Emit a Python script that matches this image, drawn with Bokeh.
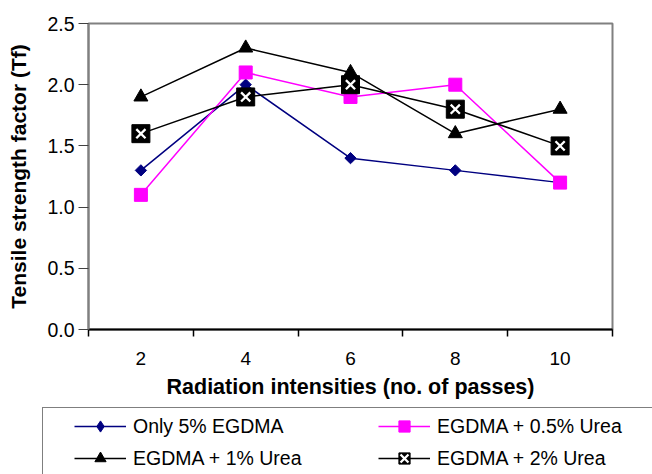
import math
from bokeh.plotting import figure
from bokeh.models import Range1d, FixedTicker, Legend, LegendItem
from bokeh.embed import file_html
from bokeh.resources import INLINE

# ---- data ----
passes = [2, 4, 6, 8, 10]
only_egdma = [1.3, 2.0, 1.4, 1.3, 1.2]
urea_05 = [1.1, 2.1, 1.9, 2.0, 1.2]
urea_1 = [1.9, 2.3, 2.1, 1.6, 1.8]
urea_2 = [1.6, 1.9, 2.0, 1.8, 1.5]
series_names = ["Only 5% EGDMA", "EGDMA + 0.5% Urea", "EGDMA + 1% Urea", "EGDMA + 2% Urea"]
y_ticks = [0.0, 0.5, 1.0, 1.5, 2.0, 2.5]
x_boundaries = [1, 3, 5, 7, 9, 11]

FONT = "Liberation Sans"


def draw_series(fig, xs, ys, in_legend=False):
    # diamond: rotated square in the plot, diamond marker in the legend (legend ignores angle)
    if in_legend:
        d_style = dict(marker="diamond", size=12, angle=0)
    else:
        d_style = dict(marker="square", size=8, angle=math.pi / 4)
    styles = [
        dict(color="#000080", **d_style),
        dict(color="#FF00FF", marker="square", size=13, angle=0),
        dict(color="black", marker="triangle", size=14, angle=0),
    ]
    groups = []
    for vals, st in zip(ys[:3], styles):
        ln = fig.line(xs, vals, line_color=st["color"], line_width=1.5)
        mk = fig.scatter(xs, vals, marker=st["marker"], size=st["size"], angle=st["angle"],
                         fill_color=st["color"], line_color=st["color"])
        groups.append([ln, mk])
    vals = ys[3]
    ln = fig.line(xs, vals, line_color="black", line_width=1.5)
    sq = fig.scatter(xs, vals, marker="square", size=18, fill_color="black", line_color="black")
    xx = fig.scatter(xs, vals, marker="x", size=13, line_color="white", line_width=2.3)
    groups.append([ln, sq, xx])
    return groups


all_series = [only_egdma, urea_05, urea_1, urea_2]

p = figure(width=652, height=405, output_backend="svg", toolbar_location=None,
           x_range=Range1d(1, 11), y_range=Range1d(0, 2.5),
           min_border_left=88, min_border_right=40, min_border_top=23, min_border_bottom=76)
p.grid.visible = False
p.outline_line_color = "#808080"
p.outline_line_width = 2
p.background_fill_color = "white"
p.border_fill_color = "white"

xa = p.xaxis[0]
xa.ticker = FixedTicker(ticks=passes, minor_ticks=x_boundaries)
xa.major_tick_line_color = None
xa.major_tick_out = 0
xa.minor_tick_out = 7
xa.minor_tick_in = 0
xa.minor_tick_line_color = "black"
xa.minor_tick_line_width = 1.5
xa.axis_line_color = "black"
xa.axis_line_width = 2
xa.major_label_standoff = 15
xa.major_label_text_font = FONT
xa.major_label_text_font_size = "19px"
xa.major_label_text_color = "black"
xa.axis_label = "Radiation intensities (no. of passes)"
xa.axis_label_text_font = FONT
xa.axis_label_text_font_size = "21.5px"
xa.axis_label_text_font_style = "bold"
xa.axis_label_text_color = "black"
xa.axis_label_standoff = 7

ya = p.yaxis[0]
ya.ticker = FixedTicker(ticks=y_ticks)
ya.minor_tick_line_color = None
ya.major_tick_out = 10
ya.major_tick_in = 0
ya.major_tick_line_color = "#404040"
ya.axis_line_color = "#808080"
ya.axis_line_width = 2
ya.major_label_overrides = {t: f"{t:.1f}" for t in y_ticks}
ya.major_label_standoff = 4
ya.major_label_text_font = FONT
ya.major_label_text_font_size = "19.5px"
ya.major_label_text_color = "black"
ya.axis_label = "Tensile strength factor (Tf)"
ya.axis_label_text_font = FONT
ya.axis_label_text_font_size = "21px"
ya.axis_label_text_font_style = "bold"
ya.axis_label_text_color = "black"
ya.axis_label_standoff = 14

draw_series(p, passes, all_series)

# ---- legend strip: own figure; its copies of the series lie outside its ranges ----
lp = figure(width=652, height=69, output_backend="svg", toolbar_location=None,
            x_range=Range1d(100, 101), y_range=Range1d(100, 101),
            x_axis_location=None, y_axis_location=None, min_border=0)
lp.grid.visible = False
lp.outline_line_color = None
lp.background_fill_color = "white"
lp.border_fill_color = "white"
lg = draw_series(lp, passes, all_series, in_legend=True)

items = [
    LegendItem(label=series_names[0], renderers=lg[0]),
    LegendItem(label=series_names[2], renderers=lg[2]),
    LegendItem(label=series_names[1], renderers=lg[1]),
    LegendItem(label=series_names[3], renderers=lg[3]),
]
legend = Legend(items=items, ncols=2, orientation="vertical",
                location=(42, -3), margin=0,
                glyph_width=52, glyph_height=28, label_height=22,
                label_width=241, label_standoff=7, spacing=4, padding=4,
                label_text_font=FONT, label_text_font_size="19.5px", label_text_color="black",
                border_line_color="black", border_line_width=1.5,
                background_fill_color="white", background_fill_alpha=1,
                title=" ", title_location="left", title_text_font_size="1px",
                title_standoff=26)
lp.add_layout(legend, "center")

open("out.html", "w").write(file_html([p, lp], INLINE))
